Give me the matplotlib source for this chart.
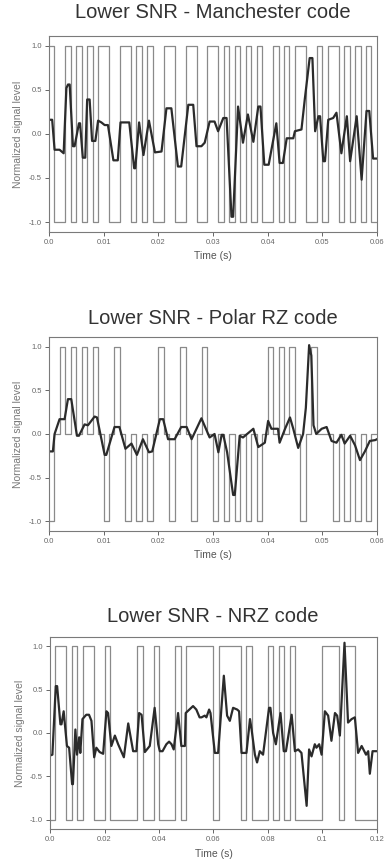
import matplotlib
matplotlib.use("Agg")
import matplotlib.pyplot as plt
import numpy as np

plt.rcParams["font.family"] = ["Liberation Sans", "DejaVu Sans"]

# %%
# Transmitted bits read off the square waves
manchester_bits = [1, 0, 0, 0, 0, 1, 0, 1, 1, 1, 0, 1, 0, 1, 0, 1, 1, 1, 1, 1,
                   0, 0, 0, 1, 0, 0, 1, 1, 1, 1]
polar_rz_pulses = [-1, 1, 1, 1, 1, -1, 1, -1, -1, -1, 1, -1, 1, -1, 1, -1, -1, -1, -1, -1,
                   1, 1, 1, -1, 1, 0, -1, -1, -1, -1]
nrz_high_bits = [1, 2, 4, 6, 7, 10, 16, 19, 23, 25, 26, 27, 28, 29, 31, 32, 33, 34, 36,
                 40, 42, 44, 50, 51, 52, 54, 55]
n_nrz_bits = 60
bit_period = 0.002

# Received (noisy, filtered) signal, time in ms
man_rx_t = [0, 0.6, 1.04, 1.95, 2.7, 3.2, 3.5, 3.8, 4.4, 4.7, 5.5, 5.7, 6.2, 6.65, 7.0, 7.45,
            7.9, 8.5, 9.0, 9.6, 10.2, 10.8, 11.8, 12.6, 13.1, 14.7, 15.6, 15.8, 16.5, 17.3,
            18.3, 19.4, 20.6, 21.5, 22.4, 23.6, 24.2, 25.5, 26.4, 27.0, 27.9, 28.5, 29.4,
            30.3, 30.95, 31.9, 32.5, 33.4, 33.7, 34.6, 35.5, 36.4, 37.4, 38.3, 38.7, 39.4,
            40.2, 41.6, 42.2, 42.8, 43.5, 44.7, 45.0, 46.2, 46.8, 47.7, 48.2, 48.7, 49.3,
            49.6, 50.2, 50.5, 51.1, 52.0, 52.6, 53.5, 54.5, 55.1, 56.3, 57.2, 58.1, 58.6,
            59.3, 60.0]
man_rx_v = [0.16, 0.16, -0.18, -0.18, -0.22, 0.52, 0.56, 0.56, -0.14, -0.14, 0.12, 0.12,
            -0.27, -0.27, 0.39, 0.39, -0.08, -0.08, 0.15, 0.13, 0.10, 0.10, -0.30, -0.30,
            0.13, 0.13, -0.39, -0.39, 0.13, -0.24, 0.15, -0.21, -0.20, 0.29, 0.29, -0.37,
            -0.37, 0.33, 0.33, -0.14, -0.14, -0.10, 0.14, 0.14, 0.03, 0.18, 0.18, -0.94,
            -0.94, 0.31, -0.10, 0.22, -0.09, 0.31, 0.31, -0.35, -0.35, 0.12, -0.33, -0.33,
            -0.05, -0.05, 0.03, 0.05, 0.39, 0.86, 0.86, 0.03, 0.20, 0.20, -0.31, -0.31,
            0.16, 0.18, 0.24, -0.22, 0.20, -0.31, 0.20, -0.52, 0.26, 0.26, -0.28, -0.28]

rz_rx_t = [0, 0.73, 1.04, 1.95, 2.87, 3.48, 4.09, 5.13, 5.5, 6.53, 7.14, 8.36, 8.79, 10.2,
           10.5, 12.0, 12.9, 14.0, 15.1, 16.1, 17.2, 18.3, 18.9, 20.3, 20.9, 21.8, 23.0,
           24.2, 25.2, 26.1, 27.9, 29.4, 30.3, 31.0, 31.6, 31.9, 32.6, 33.7, 34.0, 34.9,
           35.5, 37.4, 38.3, 39.5, 40.1, 40.7, 41.9, 42.2, 43.2, 44.1, 44.7, 45.6, 46.5,
           47.0, 47.6, 48.0, 48.4, 48.9, 49.9, 50.8, 51.7, 52.6, 53.5, 54.1, 55.1, 56.0,
           56.9, 57.8, 58.7, 59.7, 60.0]
rz_rx_v = [-0.20, -0.20, 0.00, 0.17, 0.17, 0.40, 0.40, -0.02, -0.02, 0.11, 0.10, 0.20, 0.19,
           -0.24, -0.24, 0.08, 0.08, -0.17, -0.11, -0.24, -0.06, -0.21, -0.20, 0.17, 0.17,
           -0.06, -0.06, 0.08, 0.08, -0.06, 0.18, -0.04, 0.00, -0.21, -0.01, -0.01, -0.21,
           -0.70, -0.70, -0.02, -0.04, 0.06, -0.15, -0.10, 0.15, 0.06, 0.06, -0.10, 0.06,
           0.19, 0.06, -0.16, 0.00, 0.30, 1.02, 0.90, 0.10, 0.00, 0.06, 0.08, -0.08, -0.10,
           -0.01, -0.11, -0.02, -0.13, -0.30, -0.20, -0.08, -0.07, -0.06]

nrz_rx_t = [0, 0.86, 2.1, 2.6, 3.8, 4.2, 5.0, 6.2, 7.0, 8.1, 8.4, 9.3, 9.9, 10.7, 11.1, 11.9,
            13.3, 14.3, 15.2, 16.2, 17.0, 18.2, 19.5, 20.7, 21.3, 22.5, 23.8, 25.0, 27.1,
            28.7, 30.5, 31.7, 32.7, 33.6, 34.8, 36.6, 38.4, 39.7, 40.3, 41.3, 42.7, 43.7,
            44.6, 45.4, 47.0, 48.2, 49.5, 49.8, 52.5, 53.7, 54.9, 55.6, 56.8, 57.4, 58.4,
            58.9, 60.5, 61.7, 63.8, 65.0, 66.0, 67.2, 68.7, 69.4, 70.3, 72.1, 73.4, 74.0,
            75.2, 76.0, 77.0, 78.2, 80.4, 80.9, 81.9, 82.9, 84.6, 85.8, 86.6, 88.7, 89.9,
            91.1, 92.3, 94.2, 95.1, 96.0, 97.2, 97.8, 98.8, 99.7, 100.9, 102.1, 103.3,
            104.6, 105.4, 106.4, 108.1, 109.4, 110.7, 111.9, 113.1, 114.4, 116.0, 116.8,
            117.4, 118.4, 120.0]
nrz_rx_v = [-0.26, -0.25, 0.54, 0.54, 0.10, 0.10, 0.25, -0.15, -0.17, -0.59, -0.59, 0.04,
            -0.25, -0.05, -0.23, 0.16, 0.21, 0.21, 0.14, -0.28, -0.17, -0.22, -0.24, 0.25,
            0.23, -0.15, -0.03, -0.13, -0.28, 0.11, -0.21, -0.21, 0.23, 0.21, -0.22, -0.15,
            0.29, -0.13, -0.21, -0.21, -0.13, -0.10, -0.13, -0.19, 0.23, -0.15, -0.15, 0.23,
            0.31, 0.27, 0.18, 0.18, 0.20, 0.18, 0.27, 0.23, -0.23, -0.23, 0.66, 0.20, 0.14,
            0.29, 0.27, 0.25, -0.23, -0.23, 0.16, 0.04, -0.25, -0.34, -0.21, -0.25, 0.29,
            0.29, 0.00, -0.13, 0.23, -0.21, -0.21, 0.21, -0.21, -0.19, -0.23, -0.84, -0.19,
            -0.27, -0.13, -0.17, -0.13, -0.25, 0.25, 0.20, -0.09, 0.23, 0.20, -0.03, 1.04,
            0.12, 0.16, 0.18, -0.23, -0.15, -0.25, -0.21, -0.47, -0.21, -0.21]

# %%
# Build the level sequences (one level per slot)
man_levels = []
for b in manchester_bits:
    man_levels += [1, -1] if b else [-1, 1]
rz_levels = []
for p in polar_rz_pulses:
    rz_levels += [p, 0]
nrz_levels = [1 if i in nrz_high_bits else -1 for i in range(n_nrz_bits)]


def square(levels, slot):
    t = np.arange(len(levels) + 1) * slot
    return t, np.append(levels, levels[-1])


panels = [
    ("Lower SNR - Manchester code", square(man_levels, bit_period / 2),
     (man_rx_t, man_rx_v), 0.06, [0, 0.01, 0.02, 0.03, 0.04, 0.05, 0.06],
     ["0.0", "0.01", "0.02", "0.03", "0.04", "0.05", "0.06"],
     [0.127, 0.7318, 0.852, 0.2265], 13),
    ("Lower SNR - Polar RZ code", square(rz_levels, bit_period / 2),
     (rz_rx_t, rz_rx_v), 0.06, [0, 0.01, 0.02, 0.03, 0.04, 0.05, 0.06],
     ["0.0", "0.01", "0.02", "0.03", "0.04", "0.05", "0.06"],
     [0.127, 0.3858, 0.852, 0.2238], 318),
    ("Lower SNR - NRZ code", square(nrz_levels, bit_period),
     (nrz_rx_t, nrz_rx_v), 0.12, [0, 0.02, 0.04, 0.06, 0.08, 0.1, 0.12],
     ["0.0", "0.02", "0.04", "0.06", "0.08", "0.1", "0.12"],
     [0.130, 0.0402, 0.849, 0.2229], 617),
]

# %%
# Plot
fig = plt.figure(figsize=(3.85, 8.64), dpi=100)
grey = "#7a7a7a"

for title, (sq_t, sq_v), (rx_t, rx_v), t_max, xticks, xlabels, rect, title_y in panels:
    ax = fig.add_axes(rect)
    ax.step(sq_t, sq_v, where="post", color="#8a8a8a", lw=0.9)
    ax.plot(np.array(rx_t) / 1000, rx_v, color="#2b2b2b", lw=1.6)

    ax.set_xlim(0, t_max)
    ax.set_ylim(-1.11, 1.11)
    ax.set_xticks(xticks)
    ax.set_xticklabels(xlabels)
    ax.set_yticks([-1, -0.5, 0, 0.5, 1])
    ax.set_yticklabels(["-1.0", "-0.5", "0.0", "0.5", "1.0"])
    ax.tick_params(labelsize=5.5, colors="#666666", length=3, width=0.7, pad=2)
    for s in ax.spines.values():
        s.set_color(grey)
        s.set_linewidth(0.8)
    ax.set_xlabel("Time (s)", fontsize=7.5, color="#555555", labelpad=4)
    ax.set_ylabel("Normalized signal level", fontsize=7.5, color="#777777", labelpad=4)
    fig.text(0.553, 1 - title_y / 864, title, ha="center", va="center",
             fontsize=14.5, color="#333333")

fig.savefig("out.png", dpi=100)
